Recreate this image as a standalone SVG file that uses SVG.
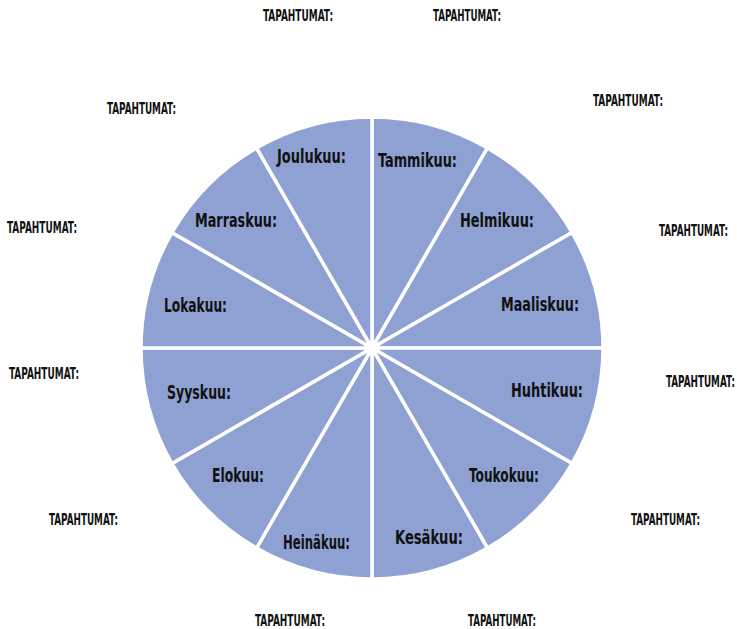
<svg xmlns="http://www.w3.org/2000/svg" width="737" height="629" viewBox="0 0 737 629">
<style>
.s{fill:#8EA1D2;stroke:#FFFFFF;stroke-width:3.5;stroke-linejoin:miter}
.m{font-family:"Liberation Sans Narrow","DejaVu Sans Condensed","Liberation Sans",sans-serif;font-weight:bold;font-size:20px;fill:#111111}
.t{font-family:"Liberation Sans Narrow","DejaVu Sans Condensed","Liberation Sans",sans-serif;font-weight:bold;font-size:10px;fill:#111111}
</style>
<rect width="737" height="629" fill="#FFFFFF"/>
<g id="tammikuu"><path class="s" d="M372,348 L372,117 A231,231 0 0 1 487.5,147.95 Z"/><text class="m" x="378" y="167" textLength="79" lengthAdjust="spacingAndGlyphs">Tammikuu:</text></g>
<g id="helmikuu"><path class="s" d="M372,348 L487.5,147.95 A231,231 0 0 1 572.05,232.5 Z"/><text class="m" x="460" y="227" textLength="74" lengthAdjust="spacingAndGlyphs">Helmikuu:</text></g>
<g id="maaliskuu"><path class="s" d="M372,348 L572.05,232.5 A231,231 0 0 1 603,348 Z"/><text class="m" x="501" y="311" textLength="78" lengthAdjust="spacingAndGlyphs">Maaliskuu:</text></g>
<g id="huhtikuu"><path class="s" d="M372,348 L603,348 A231,231 0 0 1 572.05,463.5 Z"/><text class="m" x="511" y="397" textLength="72" lengthAdjust="spacingAndGlyphs">Huhtikuu:</text></g>
<g id="toukokuu"><path class="s" d="M372,348 L572.05,463.5 A231,231 0 0 1 487.5,548.05 Z"/><text class="m" x="469" y="482" textLength="70" lengthAdjust="spacingAndGlyphs">Toukokuu:</text></g>
<g id="kesakuu"><path class="s" d="M372,348 L487.5,548.05 A231,231 0 0 1 372,579 Z"/><text class="m" x="395" y="544" textLength="68" lengthAdjust="spacingAndGlyphs">Kesäkuu:</text></g>
<g id="heinakuu"><path class="s" d="M372,348 L372,579 A231,231 0 0 1 256.5,548.05 Z"/><text class="m" x="283" y="549" textLength="67" lengthAdjust="spacingAndGlyphs">Heinäkuu:</text></g>
<g id="elokuu"><path class="s" d="M372,348 L256.5,548.05 A231,231 0 0 1 171.95,463.5 Z"/><text class="m" x="212" y="482" textLength="52" lengthAdjust="spacingAndGlyphs">Elokuu:</text></g>
<g id="syyskuu"><path class="s" d="M372,348 L171.95,463.5 A231,231 0 0 1 141,348 Z"/><text class="m" x="167" y="399" textLength="64" lengthAdjust="spacingAndGlyphs">Syyskuu:</text></g>
<g id="lokakuu"><path class="s" d="M372,348 L141,348 A231,231 0 0 1 171.95,232.5 Z"/><text class="m" x="164" y="312" textLength="63" lengthAdjust="spacingAndGlyphs">Lokakuu:</text></g>
<g id="marraskuu"><path class="s" d="M372,348 L171.95,232.5 A231,231 0 0 1 256.5,147.95 Z"/><text class="m" x="195" y="227" textLength="82" lengthAdjust="spacingAndGlyphs">Marraskuu:</text></g>
<g id="joulukuu"><path class="s" d="M372,348 L256.5,147.95 A231,231 0 0 1 372,117 Z"/><text class="m" x="277" y="163" textLength="69" lengthAdjust="spacingAndGlyphs">Joulukuu:</text></g>
<g id="tapahtumat">
<text class="t" transform="translate(263,21) scale(1,1.5)" textLength="70" lengthAdjust="spacingAndGlyphs">TAPAHTUMAT:</text>
<text class="t" transform="translate(433,21) scale(1,1.5)" textLength="68" lengthAdjust="spacingAndGlyphs">TAPAHTUMAT:</text>
<text class="t" transform="translate(593,106) scale(1,1.5)" textLength="70" lengthAdjust="spacingAndGlyphs">TAPAHTUMAT:</text>
<text class="t" transform="translate(659,236) scale(1,1.5)" textLength="69" lengthAdjust="spacingAndGlyphs">TAPAHTUMAT:</text>
<text class="t" transform="translate(666,387) scale(1,1.5)" textLength="69" lengthAdjust="spacingAndGlyphs">TAPAHTUMAT:</text>
<text class="t" transform="translate(631,525) scale(1,1.5)" textLength="69" lengthAdjust="spacingAndGlyphs">TAPAHTUMAT:</text>
<text class="t" transform="translate(468,626) scale(1,1.5)" textLength="68" lengthAdjust="spacingAndGlyphs">TAPAHTUMAT:</text>
<text class="t" transform="translate(255,626) scale(1,1.5)" textLength="70" lengthAdjust="spacingAndGlyphs">TAPAHTUMAT:</text>
<text class="t" transform="translate(49,525) scale(1,1.5)" textLength="69" lengthAdjust="spacingAndGlyphs">TAPAHTUMAT:</text>
<text class="t" transform="translate(9,379) scale(1,1.5)" textLength="70" lengthAdjust="spacingAndGlyphs">TAPAHTUMAT:</text>
<text class="t" transform="translate(7,233) scale(1,1.5)" textLength="70" lengthAdjust="spacingAndGlyphs">TAPAHTUMAT:</text>
<text class="t" transform="translate(107,114) scale(1,1.5)" textLength="69" lengthAdjust="spacingAndGlyphs">TAPAHTUMAT:</text>
</g>
</svg>
